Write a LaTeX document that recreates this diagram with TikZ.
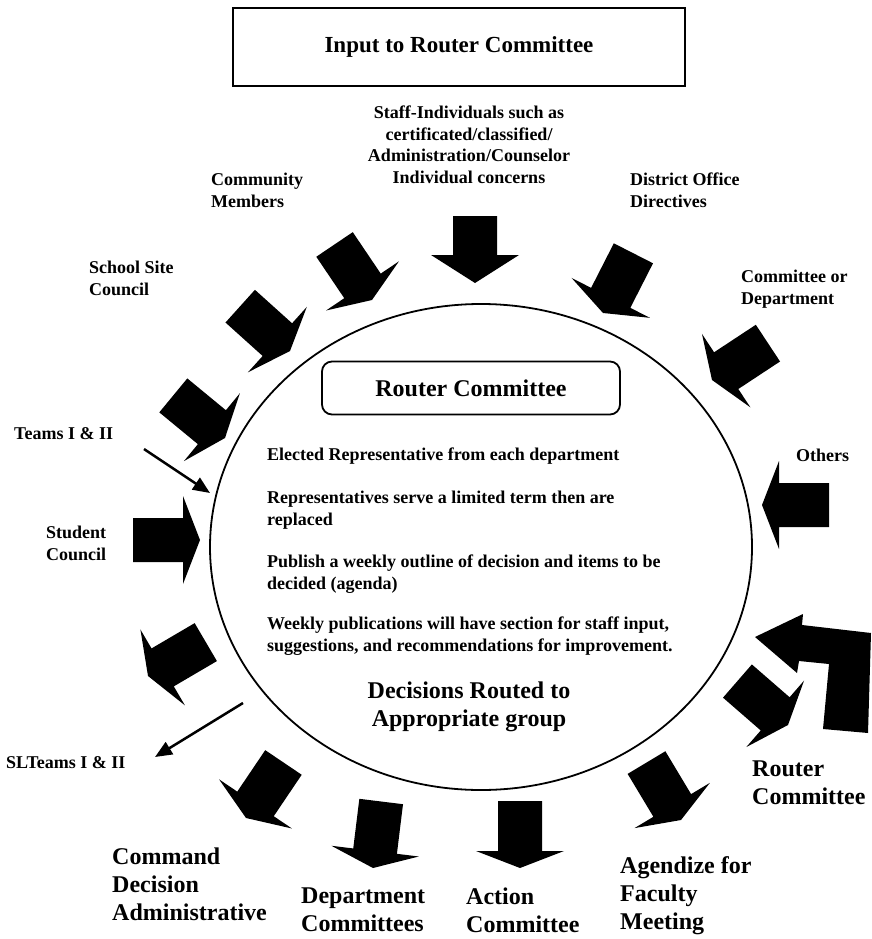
\documentclass[tikz,border=0pt]{standalone}
\usepackage{fontspec}
\setmainfont{Liberation Serif}
\usetikzlibrary{arrows.meta, positioning, shapes.geometric}

\tikzset{
  bigarrow/.pic={
    \fill (0,0) -- (-#1,44) -- (-#1,22) -- (-67,22) -- (-67,-22) -- (-#1,-22) -- (-#1,-44) -- cycle;
  }
}

\begin{document}
\begin{tikzpicture}[x=1pt, y=-1pt,
  smalltext/.style={font=\fontsize{18}{21.5}\selectfont\bfseries, align=left, anchor=north west, inner sep=0pt},
  bigtext/.style={font=\fontsize{24}{28}\selectfont\bfseries, align=left, anchor=north west, inner sep=0pt},
  thinarrow/.style={line width=2.5pt, -{Triangle[length=17pt,width=14pt]}}]
\useasboundingbox (0,0) rectangle (871,939);

% boxes and the ellipse
\node (inputbox) [draw, line width=2pt, minimum width=452pt, minimum height=78pt, font=\fontsize{23}{27}\selectfont\bfseries] at (459,47) {Input to Router Committee};
\node (router) [draw, ellipse, line width=1.8pt, inner sep=0pt, minimum width=542pt, minimum height=486pt] at (481,547) {};
\node (routerbox) [draw, rounded corners=10pt, line width=1.8pt, minimum width=298pt, minimum height=53pt, font=\fontsize{24}{28}\selectfont\bfseries] at (471,388) {Router Committee};

% text inside
\node (elected) [smalltext] at (267,448) {Elected Representative from each department};
\node (terms) [smalltext] at (267,491) {Representatives serve a limited term then are\\replaced};
\node (publish) [smalltext] at (267,555) {Publish a weekly outline of decision and items to be\\decided (agenda)};
\node (weekly) [smalltext] at (267,617) {Weekly publications will have section for staff input,\\suggestions, and recommendations for improvement.};
\node (routed) [bigtext, align=center, anchor=north] at (469,682) {Decisions Routed to\\Appropriate group};

% inputs
\node (staff) [smalltext, align=center, anchor=north] at (469,106) {Staff-Individuals such as\\certificated/classified/\\Administration/Counselor\\Individual concerns};
\node (community) [smalltext] at (211,173) {Community\\Members};
\node (district) [smalltext] at (630,173) {District Office\\Directives};
\node (committee) [smalltext] at (741,270) {Committee or\\Department};
\node (sitecouncil) [smalltext] at (89,261) {School Site\\Council};
\node (teams) [smalltext] at (14,427) {Teams I \& II};
\node (student) [smalltext] at (46,526) {Student\\Council};
\node (others) [smalltext] at (796,449) {Others};

\pic[rotate=-39.5] at (225,438) {bigarrow=17};
\pic[rotate=-42] at (290,351) {bigarrow=17};
\pic[rotate=-56] at (372,300) {bigarrow=17};
\pic[rotate=-90] at (475,283) {bigarrow=28};
\pic[rotate=-117] at (603,313) {bigarrow=17};
\pic[rotate=-146.6] at (712,380) {bigarrow=17};
\pic[rotate=180] at (762,505) {bigarrow=17};
\pic at (200,540) {bigarrow=17};

\coordinate (teamsfrom) at (144,449);
\coordinate (teamsto) at (210,493);
\draw[thinarrow] (teamsfrom) -- (teamsto);

% outputs
\node (slteams) [smalltext] at (6,756) {SLTeams I \& II};
\node (command) [bigtext] at (112,848) {Command\\Decision\\Administrative};
\node (deptcomm) [bigtext] at (301,888) {Department\\Committees};
\node (action) [bigtext] at (466,888) {Action\\Committee};
\node (agendize) [bigtext] at (620,856) {Agendize for\\Faculty\\Meeting};
\node (routerout) [bigtext] at (752,761) {Router\\Committee};

\pic[rotate=-149.6] at (148,676) {bigarrow=17};
\pic[rotate=-124] at (246,818) {bigarrow=17};
\pic[rotate=-97] at (373,868) {bigarrow=17};
\pic[rotate=-90] at (520,868) {bigarrow=17};
\pic[rotate=-59] at (681,820) {bigarrow=17};
\pic[rotate=-41] at (788,725) {bigarrow=17};
\fill (755,637) -- (803,614) -- (802,625) -- (871,633) -- (868,733) -- (823,729) -- (829,664) -- (799,661) -- (797,673) -- cycle;

\coordinate (slfrom) at (243,703);
\coordinate (slto) at (155,757);
\draw[thinarrow] (slfrom) -- (slto);
\end{tikzpicture}
\end{document}
